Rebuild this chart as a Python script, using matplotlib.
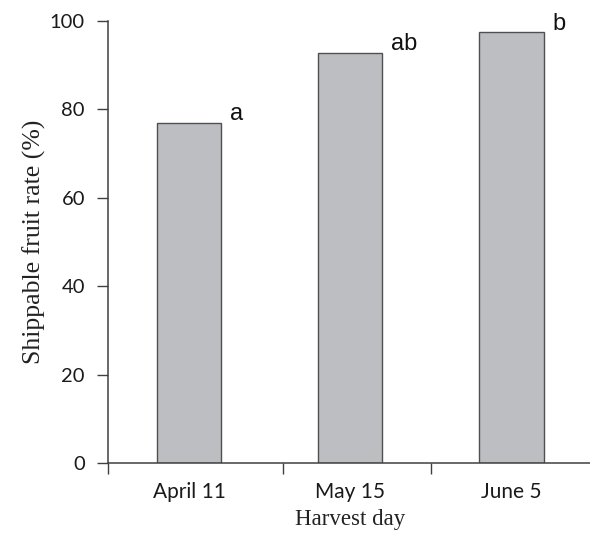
import matplotlib
matplotlib.use("Agg")
import matplotlib.pyplot as plt

categories = ["April 11", "May 15", "June 5"]
values = [77.0, 92.7, 97.4]
letters = ["a", "ab", "b"]
yticks = [0, 20, 40, 60, 80, 100]

fig = plt.figure(figsize=(5.9, 5.34), dpi=100)
ax = fig.add_axes([108.5 / 590, 71 / 534, (592 - 108.5) / 590, 442 / 534])

x = list(range(len(categories)))
bars = ax.bar(x, values, width=0.4, color="#BDBEC2", edgecolor="#505050", linewidth=1.0, zorder=2)

ax.set_xlim(-0.5, 2.5)
ax.set_ylim(0, 100)

for sp in ["top", "right"]:
    ax.spines[sp].set_visible(False)
for sp in ["left", "bottom"]:
    ax.spines[sp].set_color("#404040")
    ax.spines[sp].set_linewidth(1.1)

ax.set_yticks(yticks)
ax.set_yticklabels([str(v) for v in yticks], fontfamily="Lato", fontsize=14.5, color="#1a1a1a")
ax.tick_params(axis="y", direction="out", length=8, width=1.0, color="#404040", pad=9)

ax.set_xticks(x)
ax.set_xticklabels(categories, fontfamily="Lato", fontsize=15, color="#1a1a1a")
ax.tick_params(axis="x", which="major", length=0, pad=14)
ax.set_xticks([-0.5, 0.58, 1.5], minor=True)
ax.tick_params(axis="x", which="minor", direction="out", length=8, width=1.0, color="#404040")

ax.set_ylabel("Shippable fruit rate (%)", fontfamily="Liberation Serif", fontsize=18.5, color="#222222", labelpad=3)
ax.set_xlabel("Harvest day", fontfamily="Liberation Serif", fontsize=16.5, color="#222222", labelpad=5)

for xi, v, lab in zip(x, values, letters):
    ax.annotate(lab, xy=(xi + 0.2, v), xytext=(6, 2), textcoords="offset points",
                ha="left", va="baseline", fontfamily="Liberation Sans", fontsize=17, color="#111111")

fig.savefig("out.png", dpi=100)
